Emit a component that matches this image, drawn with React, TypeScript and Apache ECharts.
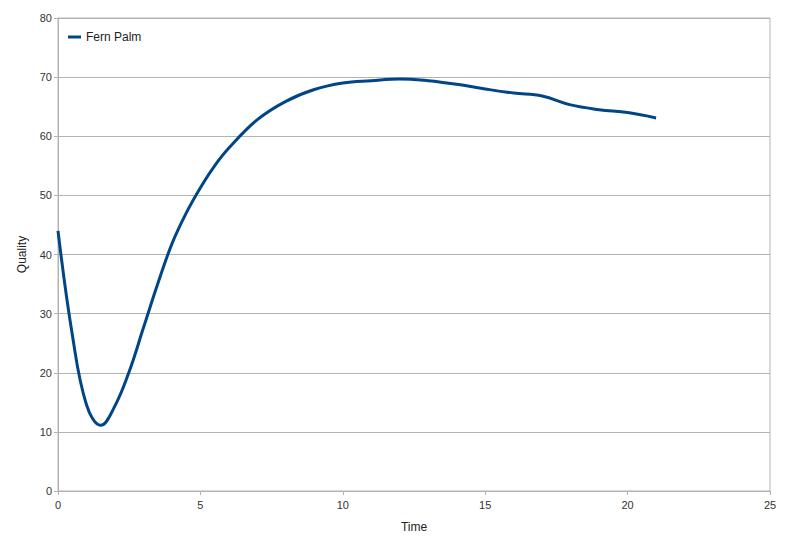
import React, { useEffect, useRef } from "react";
import * as echarts from "echarts";

const seriesName = "Fern Palm";
const times = [0, 0.5, 1, 1.5, 2, 2.5, 3, 3.5, 4, 4.5, 5, 5.5, 6, 7, 8, 9, 10, 11, 12, 13, 14, 15, 16, 17, 18, 19, 20, 21];
const quality = [44, 26.5, 14.6, 11.1, 14.4, 20.2, 27.6, 35, 41.8, 47, 51.3, 55, 58, 62.8, 65.9, 67.9, 69.0, 69.4, 69.7, 69.4, 68.8, 68.0, 67.3, 66.8, 65.3, 64.5, 64.0, 63.1];
const xTicks = { min: 0, max: 25, interval: 5 };
const yTicks = { min: 0, max: 80, interval: 10 };

export default function App() {
  const ref = useRef<HTMLDivElement>(null);
  useEffect(() => {
    if (!ref.current) return;
    const chart = echarts.init(ref.current, undefined, { renderer: "svg" });
    const font = "Liberation Sans, Arial, sans-serif";
    chart.setOption({
      animation: false,
      backgroundColor: "#ffffff",
      textStyle: { fontFamily: font },
      grid: { left: 48, right: 22, top: 10, bottom: 61, show: true, borderColor: "#b3b3b3", borderWidth: 1 },
      legend: {
        left: 55,
        top: 18,
        icon: "rect",
        itemWidth: 13,
        itemHeight: 3,
        itemGap: 4,
        textStyle: { fontSize: 12, color: "#222", fontFamily: font },
        data: [seriesName],
      },
      xAxis: {
        type: "value",
        min: xTicks.min,
        max: xTicks.max,
        interval: xTicks.interval,
        name: "Time",
        nameLocation: "middle",
        nameGap: 30,
        nameTextStyle: { fontSize: 12, color: "#222", fontFamily: font },
        axisLine: { show: true, lineStyle: { color: "#b3b3b3" } },
        axisTick: { show: true, length: 4, lineStyle: { color: "#b3b3b3" } },
        axisLabel: { fontSize: 11, color: "#333", margin: 8 },
        splitLine: { show: false },
      },
      yAxis: {
        type: "value",
        min: yTicks.min,
        max: yTicks.max,
        interval: yTicks.interval,
        name: "Quality",
        nameLocation: "middle",
        nameGap: 30,
        nameRotate: 90,
        nameTextStyle: { fontSize: 12, color: "#222", fontFamily: font },
        axisLine: { show: true, lineStyle: { color: "#b3b3b3" } },
        axisTick: { show: true, length: 4, lineStyle: { color: "#b3b3b3" } },
        axisLabel: { fontSize: 11, color: "#333", margin: 6 },
        splitLine: { show: true, lineStyle: { color: "#b3b3b3", width: 1 } },
      },
      series: [
        {
          name: seriesName,
          type: "line",
          smooth: 0.4,
          showSymbol: false,
          symbol: "none",
          data: times.map((t, i) => [t, quality[i]]),
          lineStyle: { color: "#004586", width: 3 },
          itemStyle: { color: "#004586" },
        },
      ],
    });
    return () => chart.dispose();
  }, []);
  return <div ref={ref} style={{ width: 784, height: 544 }} />;
}
